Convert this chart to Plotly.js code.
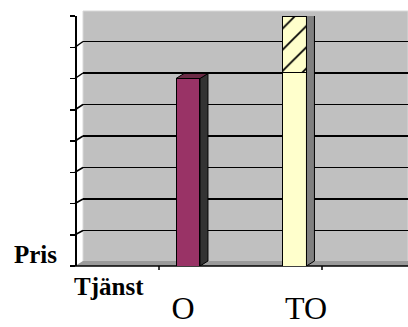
<!DOCTYPE html>
<html>
<head>
<meta charset="utf-8">
<script src="https://cdn.plot.ly/plotly-3.0.1.min.js"></script>
<style>html,body{margin:0;padding:0;background:#fff;}#chart{width:408px;height:327px;}</style>
</head>
<body>
<div id="chart"></div>
<script>
// ---- data ----
const categories = ['O', 'TO'];
const baseValues = [6, 6.2];
const hatchedValues = [0, 1.8];
const frontColors = ['#993366', '#ffffcc'];
const sideColors = ['#333333', '#808080'];
const topColors = ['#6b2b45', '#d8d8a8'];
const yTicks = [0, 1, 2, 3, 4, 5, 6, 7, 8];
const wallGrid = [1, 2, 3, 4, 5, 6, 7];
const xTitle = 'Tjänst';
const yTitle = 'Pris';

// ---- geometry / style ----
const W = 408, H = 327;
const mL = 75, mR = 0, mT = 11, mB = 61;
const plotW = W - mL - mR, plotH = H - mT - mB;
const barWidth = 0.225;
const depthX = 0.075, depthY = 0.16;

const idx = categories.map((c, i) => i);
const totals = baseValues.map((v, i) => v + hatchedValues[i]);

const traces = [];
traces.push({
  type: 'bar', x: idx, y: baseValues, width: barWidth,
  marker: {color: frontColors, line: {color: '#000', width: 1}},
  hoverinfo: 'skip'
});
traces.push({
  type: 'bar', x: idx, y: hatchedValues, width: barWidth,
  marker: {color: '#ffffcc', line: {color: '#000', width: 1},
           pattern: {shape: '/', fgcolor: '#000000', bgcolor: '#ffffcc', fgopacity: 1, size: 15, solidity: 0.12}},
  hoverinfo: 'skip'
});
idx.forEach((i) => {
  const t = totals[i];
  const r = i + barWidth / 2, l = i - barWidth / 2;
  traces.push({
    type: 'scatter', mode: 'lines', fill: 'toself',
    x: [r, r + depthX, r + depthX, r, r],
    y: [0, depthY, t + depthY, t, 0],
    fillcolor: sideColors[i], line: {color: '#000', width: 1}, hoverinfo: 'skip'
  });
  traces.push({
    type: 'scatter', mode: 'lines', fill: 'toself',
    x: [l, r, r + depthX, l + depthX, l],
    y: [t, t, t + depthY, t + depthY, t],
    fillcolor: topColors[i], line: {color: '#000', width: 1}, hoverinfo: 'skip'
  });
});
// helper traces so overlay axes exist
traces.push({type: 'scatter', x: [null], y: [null], yaxis: 'y2', hoverinfo: 'skip'});
traces.push({type: 'scatter', x: [null], y: [null], xaxis: 'x2', hoverinfo: 'skip'});

// pixel helpers for decorative 3D walls
const px2paperX = (px) => (px - mL) / plotW;
const px2paperY = (py) => (H - mB - py) / plotH;
const frontUnit = 31.25, wallUnit = 31.5;
const shapes = [];
// back wall
shapes.push({type: 'rect', xref: 'paper', yref: 'paper', layer: 'below',
  x0: px2paperX(83), x1: 1, y0: px2paperY(262), y1: px2paperY(11),
  fillcolor: '#c0c0c0', line: {color: '#d8d8d8', width: 1}});
// floor
shapes.push({type: 'path', xref: 'paper', yref: 'paper', layer: 'below',
  path: `M 0 0 L 1 0 L 1 ${px2paperY(261)} L ${px2paperX(83)} ${px2paperY(261)} Z`,
  fillcolor: '#9a9a9a', line: {width: 0}});
// side wall stubs
wallGrid.forEach((v) => {
  shapes.push({type: 'line', xref: 'paper', yref: 'paper', layer: 'below',
    x0: 0, y0: px2paperY(266 - v * frontUnit), x1: px2paperX(83), y1: px2paperY(262 - v * wallUnit),
    line: {color: '#000', width: 1.5}});
});
// front floor edge
shapes.push({type: 'line', xref: 'paper', yref: 'paper', layer: 'below',
  x0: 0, x1: 1, y0: 0, y1: 0, line: {color: '#000', width: 1.5}});
// small category ticks on front edge
[159, 322].forEach((p) => {
  shapes.push({type: 'line', xref: 'paper', yref: 'paper', layer: 'above',
    x0: px2paperX(p), x1: px2paperX(p), y0: 0, y1: px2paperY(270), line: {color: '#000', width: 1.5}});
});

const layout = {
  width: W, height: H,
  margin: {l: mL, r: mR, t: mT, b: mB, pad: 0},
  paper_bgcolor: '#ffffff', plot_bgcolor: 'rgba(0,0,0,0)',
  showlegend: false, barmode: 'stack',
  xaxis: {domain: [px2paperX(83), 1], range: [-0.986, 2.066], showgrid: false, zeroline: false,
          showticklabels: false, ticks: '', showline: false, fixedrange: true},
  xaxis2: {overlaying: 'x', anchor: 'y', side: 'bottom', range: [-0.813, 1.829],
           tickmode: 'array', tickvals: idx, ticktext: categories,
           tickfont: {family: 'Liberation Serif', size: 32, color: '#000'},
           ticks: '', showgrid: false, zeroline: false, showline: false, ticklabelstandoff: 20},
  yaxis: {anchor: 'free', position: 0, domain: [0, 250 / plotH], range: [0, 8],
          tickmode: 'array', tickvals: yTicks, ticks: 'outside', ticklen: 5, tickwidth: 1.5, tickcolor: '#000',
          showline: true, linecolor: '#000', linewidth: 1.5, showgrid: false, zeroline: false,
          showticklabels: false, fixedrange: true},
  yaxis2: {overlaying: 'y', anchor: 'x', range: [-4 / wallUnit, (262 - 16) / wallUnit],
           tickmode: 'array', tickvals: wallGrid, showgrid: true, gridcolor: '#000', gridwidth: 1.5,
           showticklabels: false, ticks: '', zeroline: false, showline: false},
  shapes: shapes,
  annotations: [
    {text: '<b>' + yTitle + '</b>', xref: 'paper', yref: 'paper', x: px2paperX(12), y: px2paperY(254.5),
     xanchor: 'left', yanchor: 'middle', showarrow: false,
     font: {family: 'Liberation Serif', size: 25, color: '#000'}},
    {text: '<b>' + xTitle + '</b>', xref: 'paper', yref: 'paper', x: px2paperX(72), y: px2paperY(286.5),
     xanchor: 'left', yanchor: 'middle', showarrow: false,
     font: {family: 'Liberation Serif', size: 25, color: '#000'}}
  ]
};

Plotly.newPlot('chart', traces, layout, {staticPlot: true, displayModeBar: false});
</script>
</body>
</html>
